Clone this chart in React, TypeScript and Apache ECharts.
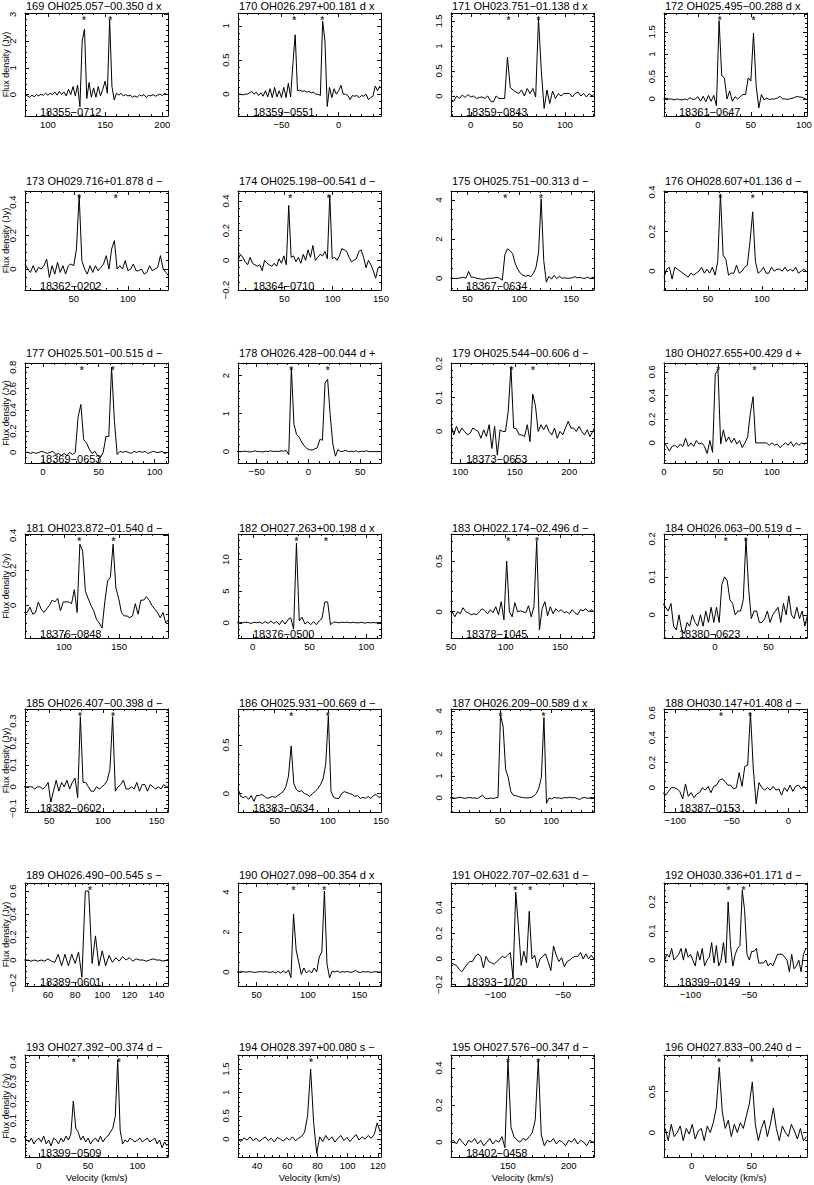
import React, { useEffect, useRef } from "react";
import * as echarts from "echarts";

// ---------------- data ----------------
const panelIds = [169, 170, 171, 172, 173, 174, 175, 176, 177, 178, 179, 180, 181, 182, 183, 184, 185, 186, 187, 188, 189, 190, 191, 192, 193, 194, 195, 196];
const sourceNames = [
  "OH025.057−00.350 d x", "OH026.297+00.181 d x", "OH023.751−01.138 d x", "OH025.495−00.288 d x",
  "OH029.716+01.878 d −", "OH025.198−00.541 d −", "OH025.751−00.313 d −", "OH028.607+01.136 d −",
  "OH025.501−00.515 d −", "OH026.428−00.044 d +", "OH025.544−00.606 d −", "OH027.655+00.429 d +",
  "OH023.872−01.540 d −", "OH027.263+00.198 d x", "OH022.174−02.496 d −", "OH026.063−00.519 d −",
  "OH026.407−00.398 d −", "OH025.931−00.669 d −", "OH026.209−00.589 d x", "OH030.147+01.408 d −",
  "OH026.490−00.545 s −", "OH027.098−00.354 d x", "OH022.707−02.631 d −", "OH030.336+01.171 d −",
  "OH027.392−00.374 d −", "OH028.397+00.080 s −", "OH027.576−00.347 d −", "OH027.833−00.240 d −",
];
const irasNames = [
  "18355−0712", "18359−0551", "18359−0843", "18361−0647",
  "18362−0202", "18364−0710", "18367−0634", "",
  "18369−0653", "", "18373−0653", "",
  "18376−0848", "18376−0500", "18378−1045", "18380−0623",
  "18382−0602", "18383−0634", "", "18387−0153",
  "18389−0601", "", "18393−1020", "18399−0149",
  "18399−0509", "", "18402−0458", "",
];
const xMin = [80, -88, -21, -32, 5, 2, 34, 9, -16, -68, 91.5, 0, 65, -13, 50, -47.5, 27.5, 15.5, 2, -110, 43, 32, -133, -122.5, -14, 27.5, 103, -23];
const xMax = [205, 37, 131, 103, 137, 150, 172, 142, 112, 70, 222.7, 132.5, 194, 113, 181, 86, 160.5, 150, 142, 16.5, 148.5, 171, -27, -1, 131, 122, 221, 96];
const xTick = [50, 50, 50, 50, 50, 50, 50, 50, 50, 50, 50, 50, 50, 50, 50, 50, 50, 50, 50, 50, 20, 50, 50, 50, 50, 20, 50, 50];
const yMin = [-0.8, -0.32, -0.4, -0.38, -0.125, -0.2, -0.6, -0.095, -0.1, -0.3, -0.093, -0.17, -0.186, -2.4, -0.26, -0.061, -0.115, -0.19, -0.65, -0.195, -0.226, -0.7, -0.21, -0.089, -0.087, -0.38, -0.08, -0.3];
const yMax = [3.05, 1.19, 1.66, 1.92, 0.466, 0.467, 4.45, 0.405, 0.84, 2.33, 0.202, 0.675, 0.408, 14.05, 0.77, 0.213, 0.355, 0.87, 4.09, 0.63, 0.67, 4.45, 0.59, 0.265, 0.436, 1.8, 0.47, 0.95];
const yTick = [1, 0.5, 0.5, 0.5, 0.2, 0.2, 2, 0.2, 0.2, 1, 0.1, 0.2, 0.2, 5, 0.5, 0.1, 0.1, 0.5, 1, 0.2, 0.2, 2, 0.2, 0.1, 0.1, 0.5, 0.2, 0.5];
const chanStart = [80, -88, -21, -32.5, 5, 2, 33.5, 9, -16, -69, 91.5, 0, 64.5, -14, 48.5, -48.5, 26.5, 15.5, 0.5, -111, 42.5, 31, -133, -122, -15, 27.5, 102.5, -22];
const chanWidth = [2, 2, 3, 2.5, 2.5, 2.5, 2.5, 2.5, 2.5, 2.5, 2.5, 2.5, 2.5, 2.5, 2.5, 2.5, 2.5, 2.5, 2.5, 2.5, 2.5, 2.5, 2, 2, 2.5, 2, 2.5, 2.5];
const starVel = [
  [131.5, 154.5], [-38.8, -14.3], [40, 72], [20.5, 52.5],
  [55, 88.7], [56, 96], [86.2, 120.8], [61.2, 91.4],
  [34.7, 62.5], [-16.6, 18.6], [147, 166.6], [50.2, 83.7],
  [113.8, 144.8], [38.5, 64.4], [102.4, 128.7], [10, 28.8],
  [78.7, 109.2], [65.5, 99.8], [50.4, 92.6], [-59.6, -33.9],
  [91], [85.9, 115.9], [-85.4, -74.3], [-67.8, -55],
  [35.5, 81], [75.7], [150, 175], [22.8, 50],
];

const flux169 = [0.0, -0.05, -0.1, -0.02, -0.08, 0.0, -0.05, 0.02, -0.03, 0.05, -0.02, 0.05, 0.0, 0.1, -0.02, 0.12, 0.0, 0.1, -0.05, 0.2, 0.0, 0.3, -0.05, 0.35, -0.45, 2.0, 2.45, -0.15, 0.45, -0.1, 0.25, -0.1, 0.3, -0.05, 0.2, 0.5, 0.05, 2.8, 0.3, -0.2, 0.05, -0.02, 0.05, -0.05, 0.0, -0.05, -0.02, -0.1, -0.05, -0.1, -0.02, -0.05, 0.0, -0.1, -0.03, -0.05, 0.0, -0.06, -0.02, 0.02, -0.04, 0.05, 0.0];
const flux170 = [0.0, 0.0, -0.01, 0.0, 0.0, 0.02, 0.04, 0.0, 0.03, -0.02, 0.02, -0.03, 0.05, -0.04, 0.08, -0.05, 0.1, -0.04, 0.05, -0.05, 0.1, -0.05, 0.16, -0.04, 0.45, 0.87, 0.05, 0.06, 0.04, 0.05, 0.03, 0.04, 0.02, 0.03, 0.0, 0.0, -0.02, 1.07, 0.78, -0.18, 0.1, -0.05, 0.08, 0.0, 0.05, 0.13, 0.0, 0.0, -0.02, -0.08, -0.02, -0.03, -0.02, -0.05, -0.02, -0.03, 0.0, -0.08, -0.05, -0.03, 0.12, 0.05, 0.12];
const flux171 = [-0.08, -0.1, 0.0, -0.05, 0.02, -0.03, 0.03, -0.02, 0.0, -0.05, -0.03, -0.02, -0.05, 0.0, -0.1, -0.12, 0.0, -0.05, -0.05, -0.05, 0.78, 0.17, 0.12, 0.08, 0.05, 0.12, 0.0, 0.15, 0.05, 0.15, -0.02, 1.55, 0.5, -0.25, 0.12, -0.15, 0.1, -0.05, 0.05, 0.0, 0.05, 0.05, 0.05, -0.02, 0.05, 0.08, 0.0, 0.05, -0.02, 0.05, 0.0, 0.05];
const flux172 = [0.0, 0.02, 0.0, 0.0, -0.02, 0.0, -0.01, -0.02, 0.0, -0.02, 0.03, -0.01, 0.0, 0.05, -0.05, 0.06, -0.06, 0.08, -0.05, 0.08, -0.15, 1.75, 0.52, 0.47, 0.0, 0.18, -0.05, 0.05, 0.0, 0.05, 0.1, 0.1, 0.47, 0.4, 1.47, 0.3, -0.2, 0.1, -0.02, 0.02, -0.01, 0.0, 0.0, 0.02, 0.06, 0.0, 0.0, -0.01, 0.01, 0.02, 0.05, 0.05, 0.04, 0.02, 0.0];
const flux173 = [0.03, 0.0, -0.02, 0.02, -0.02, 0.01, 0.0, 0.02, 0.06, -0.05, 0.02, -0.03, 0.04, -0.02, 0.02, -0.03, 0.02, 0.03, 0.02, 0.12, 0.44, 0.05, 0.0, -0.03, 0.02, -0.02, 0.02, -0.01, 0.01, 0.03, 0.08, 0.0, 0.12, 0.17, 0.0, 0.02, 0.0, 0.05, -0.01, 0.0, 0.03, -0.01, -0.01, 0.0, -0.03, -0.02, 0.02, -0.01, 0.0, 0.01, 0.08, 0.0, -0.02, -0.04];
const flux174 = [0.0, 0.04, 0.02, -0.01, -0.03, 0.02, -0.02, -0.03, -0.04, -0.03, -0.07, 0.0, -0.02, -0.03, -0.04, -0.02, -0.04, 0.01, -0.02, 0.03, -0.03, 0.37, 0.02, 0.03, -0.01, 0.02, -0.02, 0.04, 0.0, 0.07, 0.02, 0.1, 0.0, 0.02, 0.04, 0.03, 0.06, 0.01, 0.44, 0.01, 0.02, 0.0, 0.03, 0.08, 0.07, 0.06, 0.02, -0.01, 0.0, 0.01, 0.06, 0.07, 0.02, -0.05, 0.0, -0.03, -0.07, -0.12, -0.05, -0.04];
const flux175 = [0.0, 0.0, -0.02, 0.0, 0.02, 0.05, 0.0, 0.35, 0.05, 0.05, 0.0, -0.02, -0.05, -0.05, -0.02, 0.0, 0.0, 0.02, 0.05, 0.0, -0.1, 1.2, 1.5, 1.4, 1.25, 0.75, 0.45, 0.25, 0.15, 0.1, 0.15, 0.08, 0.25, 0.55, 1.3, 4.05, 0.9, -0.2, 0.1, -0.05, 0.15, -0.02, 0.1, 0.0, 0.02, 0.0, 0.0, 0.02, 0.08, 0.02, 0.05, 0.0, 0.0, 0.05, -0.02, 0.05, 0.05];
const flux176 = [-0.03, 0.01, 0.02, -0.04, 0.02, 0.01, 0.0, -0.01, -0.02, -0.03, -0.01, -0.02, -0.01, 0.0, 0.02, -0.01, 0.01, -0.01, 0.02, -0.02, 0.05, 0.39, 0.08, 0.06, -0.02, -0.01, -0.01, 0.03, -0.01, 0.0, 0.02, 0.03, 0.15, 0.3, 0.05, -0.01, 0.0, 0.02, -0.01, -0.01, 0.02, 0.0, 0.01, 0.01, 0.0, 0.02, 0.0, 0.01, 0.0, 0.02, -0.01, 0.0, 0.01, 0.0];
const flux177 = [0.0, 0.0, -0.01, 0.0, -0.01, 0.0, 0.01, 0.0, -0.01, 0.0, 0.01, -0.02, -0.01, -0.03, -0.01, -0.03, 0.0, -0.02, 0.0, 0.33, 0.45, 0.12, 0.09, 0.03, -0.01, 0.01, -0.03, -0.05, 0.0, 0.15, 0.15, 0.8, 0.3, -0.02, 0.01, 0.0, 0.01, 0.0, -0.01, 0.01, 0.0, 0.01, 0.0, 0.01, -0.01, 0.0, 0.01, 0.0, 0.0, 0.01, -0.01, 0.0];
const flux178 = [0.0, 0.0, 0.0, 0.01, 0.0, -0.01, 0.0, 0.02, 0.0, 0.0, -0.01, 0.01, 0.0, 0.02, 0.0, 0.01, 0.0, 0.02, 0.01, 0.03, -0.08, 2.2, 0.72, 0.45, 0.38, 0.25, 0.15, 0.08, 0.05, 0.04, 0.07, 0.1, 0.32, 0.3, 1.8, 1.9, 0.95, 0.2, -0.12, 0.05, 0.0, 0.01, 0.03, 0.0, 0.01, 0.0, 0.02, -0.01, 0.01, 0.0, 0.02, 0.0, 0.0, 0.0, 0.0, 0.0, 0.0];
const flux179 = [0.02, -0.01, 0.015, -0.005, 0.01, 0.0, -0.01, -0.005, 0.01, 0.005, 0.0, -0.02, 0.005, -0.015, 0.02, -0.05, 0.015, -0.07, 0.005, 0.0, 0.0, 0.06, 0.19, 0.01, 0.008, -0.01, -0.01, -0.015, 0.02, -0.03, 0.11, 0.075, 0.0, 0.02, 0.005, 0.02, 0.0, -0.01, 0.01, -0.02, 0.0, -0.01, 0.01, 0.03, 0.01, 0.01, 0.0, 0.015, 0.0, -0.01, 0.005, -0.015, 0.0, 0.015];
const flux180 = [0.0, -0.03, -0.07, -0.03, -0.02, -0.04, -0.01, -0.03, 0.04, -0.03, 0.0, -0.03, 0.02, -0.01, 0.0, -0.03, -0.09, 0.02, -0.08, 0.58, 0.62, -0.01, 0.11, 0.01, 0.05, 0.0, 0.04, -0.01, 0.02, -0.04, 0.0, 0.05, 0.25, 0.39, 0.0, 0.0, 0.0, 0.0, 0.0, -0.02, 0.0, -0.02, -0.01, -0.04, -0.02, 0.0, -0.02, 0.01, -0.03, 0.0, -0.02, 0.0, -0.01, 0.0];
const flux181 = [-0.04, -0.04, -0.01, -0.05, -0.04, 0.02, -0.02, -0.04, -0.02, 0.0, 0.03, 0.02, 0.04, -0.03, 0.02, 0.02, 0.02, 0.01, 0.09, -0.04, 0.35, 0.31, 0.08, 0.04, 0.0, -0.03, -0.08, -0.1, -0.13, 0.02, 0.14, 0.16, 0.35, 0.1, 0.04, -0.04, -0.06, -0.06, -0.07, -0.06, 0.01, -0.05, 0.03, 0.03, 0.05, 0.03, 0.0, -0.02, -0.04, -0.07, -0.04, -0.1, -0.08];
const flux182 = [0.1, 0.1, 0.0, 0.1, 0.05, -0.1, 0.1, 0.0, 0.1, -0.1, 0.2, -0.1, 0.3, -0.1, 0.2, -0.3, 0.4, -0.2, 0.5, 0.8, -1.0, 12.6, 0.3, 0.9, -0.2, 0.2, -0.3, 0.2, -0.3, 0.3, 0.7, 3.3, 3.3, -0.3, 0.1, 0.1, 0.0, 0.1, 0.05, 0.1, 0.0, 0.1, 0.0, 0.0, 0.1, -0.05, 0.05, 0.0, 0.05, 0.0, 0.05, 0.05];
const flux183 = [0.0, 0.0, -0.05, 0.0, -0.02, 0.04, 0.0, -0.01, -0.03, -0.02, -0.03, 0.0, 0.03, 0.01, -0.02, 0.02, -0.01, 0.05, -0.03, 0.1, -0.08, 0.5, 0.0, -0.05, 0.09, 0.0, 0.01, 0.0, -0.01, 0.06, -0.05, 0.05, 0.7, -0.18, 0.03, 0.1, -0.04, 0.05, -0.02, 0.03, 0.0, 0.02, -0.01, 0.0, -0.02, 0.02, -0.01, -0.03, 0.02, 0.01, 0.03, 0.0, 0.02, 0.0];
const flux184 = [0.03, 0.02, 0.01, 0.03, -0.03, -0.04, 0.0, -0.04, -0.05, -0.02, -0.03, 0.0, -0.02, -0.03, 0.0, -0.03, 0.01, -0.02, 0.02, -0.02, 0.02, -0.02, 0.08, 0.1, 0.09, 0.04, 0.03, 0.0, 0.01, 0.01, 0.04, 0.2, 0.07, -0.01, 0.01, 0.01, -0.02, -0.02, -0.01, 0.01, -0.02, 0.0, 0.01, 0.02, -0.02, 0.03, 0.0, 0.05, 0.0, -0.01, 0.02, -0.01, 0.01, -0.03, 0.0];
const flux185 = [0.0, 0.0, 0.0, 0.0, -0.01, 0.0, 0.0, -0.01, 0.0, 0.02, -0.07, -0.02, 0.03, -0.02, 0.02, 0.0, 0.03, -0.01, 0.02, 0.04, -0.05, 0.32, 0.02, 0.02, 0.0, -0.02, -0.02, 0.0, -0.01, 0.0, 0.01, 0.03, 0.08, 0.32, -0.02, 0.0, 0.01, 0.03, -0.01, -0.01, 0.0, -0.01, 0.02, -0.02, 0.01, 0.01, -0.02, 0.01, 0.0, -0.01, 0.0, -0.01, 0.01, 0.0, 0.0];
const flux186 = [0.05, -0.03, -0.04, -0.03, -0.06, -0.02, -0.08, -0.02, -0.02, -0.01, -0.03, -0.05, -0.04, -0.03, -0.04, -0.02, 0.0, 0.02, 0.07, 0.18, 0.49, 0.1, 0.04, 0.02, 0.03, 0.0, -0.01, -0.03, 0.0, 0.02, 0.05, 0.09, 0.15, 0.3, 0.8, 0.02, -0.04, -0.05, -0.05, 0.0, 0.02, 0.01, 0.0, -0.01, -0.03, -0.02, -0.05, -0.04, -0.05, -0.03, -0.05, -0.02, -0.01, -0.04, -0.03];
const flux187 = [0.0, 0.02, -0.02, 0.0, 0.03, 0.0, -0.02, 0.0, 0.02, -0.01, 0.0, -0.03, 0.05, 0.12, -0.02, -0.04, 0.0, -0.03, 0.0, 0.02, 3.8, 3.3, 1.3, 0.95, 0.3, 0.12, 0.1, 0.06, 0.03, 0.01, 0.0, 0.0, 0.02, 0.08, 0.2, 0.45, 0.95, 3.7, -0.25, 0.0, -0.05, 0.02, 0.0, 0.0, -0.03, 0.02, 0.0, 0.03, 0.0, 0.02, -0.03, -0.07, 0.0, 0.02, -0.02, 0.0, 0.02, 0.0];
const flux188 = [-0.04, -0.06, -0.03, 0.0, 0.0, -0.01, -0.03, -0.09, 0.03, -0.07, -0.04, -0.08, -0.05, -0.04, 0.0, -0.02, 0.01, -0.04, 0.01, 0.02, 0.06, 0.07, 0.05, 0.02, 0.02, -0.01, 0.0, 0.12, 0.01, 0.17, 0.18, 0.6, 0.15, -0.13, 0.04, 0.0, -0.02, 0.0, -0.02, 0.01, -0.02, -0.01, -0.06, 0.0, -0.03, 0.02, -0.03, 0.01, 0.02, -0.01, 0.01, -0.02];
const flux189 = [0.0, 0.0, -0.01, 0.0, -0.01, 0.0, -0.01, 0.01, -0.01, -0.02, 0.05, -0.05, 0.05, -0.05, 0.05, -0.03, 0.07, -0.15, 0.6, 0.6, -0.03, 0.21, -0.05, 0.08, -0.05, 0.04, -0.02, 0.02, -0.01, 0.03, 0.0, 0.02, -0.01, 0.01, 0.0, 0.0, -0.01, 0.0, 0.01, 0.0, 0.0, -0.01, 0.0, 0.01];
const flux190 = [0.0, 0.0, 0.02, 0.0, 0.0, 0.02, 0.0, -0.02, 0.0, 0.02, 0.0, 0.02, 0.0, -0.02, 0.02, -0.05, 0.03, -0.05, 0.05, -0.05, 0.1, -0.28, 2.9, 1.1, 0.5, -0.12, 0.2, -0.05, 0.08, -0.05, 0.2, 0.0, 0.75, 1.0, 4.05, 0.4, -0.3, 0.05, 0.0, 0.05, -0.02, 0.02, 0.0, 0.03, -0.02, 0.0, 0.08, 0.0, -0.02, 0.02, 0.0, 0.02, -0.02, 0.0, 0.02, 0.0, 0.0];
const flux191 = [-0.03, -0.04, -0.05, -0.08, -0.1, -0.07, -0.04, -0.02, -0.02, 0.02, 0.04, 0.02, -0.07, 0.02, -0.02, -0.03, -0.04, -0.02, 0.0, 0.02, 0.01, 0.03, 0.05, -0.15, 0.52, 0.25, -0.05, 0.06, -0.03, 0.37, 0.0, 0.03, -0.07, 0.0, 0.02, 0.04, -0.02, -0.09, 0.1, 0.03, -0.02, 0.01, -0.06, -0.02, -0.01, 0.01, 0.02, 0.02, 0.05, 0.0, 0.04, 0.0, 0.03, 0.0];
const flux192 = [0.0, 0.02, 0.01, 0.04, 0.0, 0.01, 0.02, 0.04, 0.0, 0.04, 0.01, 0.02, 0.0, -0.02, 0.03, 0.0, 0.04, -0.02, 0.0, 0.01, 0.06, -0.01, 0.05, -0.02, 0.0, 0.06, -0.01, 0.2, 0.05, -0.02, 0.02, 0.04, 0.05, 0.24, 0.17, 0.02, 0.0, 0.03, 0.03, 0.04, -0.01, -0.01, -0.01, 0.0, -0.02, -0.01, -0.02, 0.0, 0.02, 0.02, 0.02, 0.01, 0.0, -0.04, 0.02, -0.03, -0.02, 0.0, -0.04, 0.02, 0.04];
const flux193 = [0.02, 0.0, -0.01, 0.01, -0.02, 0.0, 0.01, -0.01, 0.02, -0.02, 0.0, -0.03, 0.01, 0.0, -0.02, 0.01, -0.01, 0.02, 0.0, 0.03, 0.2, 0.06, 0.04, 0.0, 0.02, -0.01, 0.01, -0.02, 0.0, 0.01, -0.01, 0.02, -0.01, 0.01, 0.02, 0.04, 0.06, 0.12, 0.41, 0.05, -0.02, 0.0, -0.01, 0.01, 0.0, -0.01, 0.0, 0.01, -0.01, 0.0, 0.01, -0.01, 0.0, 0.01, -0.02, 0.0, -0.04, -0.01, -0.03];
const flux194 = [0.0, -0.05, 0.03, -0.02, 0.05, -0.03, 0.02, -0.05, 0.0, 0.05, -0.03, 0.02, -0.06, 0.04, 0.0, -0.04, 0.03, -0.02, 0.05, -0.03, 0.02, 0.06, 0.15, 0.5, 1.5, 0.35, -0.3, 0.05, -0.05, 0.08, -0.02, 0.05, -0.06, 0.02, 0.08, -0.03, 0.04, -0.05, 0.03, 0.1, -0.02, 0.05, 0.0, 0.08, 0.02, 0.1, 0.35, 0.15];
const flux195 = [0.0, 0.01, -0.01, 0.02, 0.0, -0.02, 0.01, 0.0, 0.02, -0.01, 0.01, -0.02, 0.0, 0.02, -0.01, 0.01, 0.0, 0.03, -0.03, 0.44, 0.08, 0.03, 0.01, 0.0, 0.02, 0.01, 0.03, 0.05, 0.12, 0.44, 0.04, -0.02, 0.01, 0.0, 0.02, -0.01, 0.01, 0.0, -0.02, 0.01, 0.0, 0.02, -0.01, 0.01, 0.0, -0.02, 0.01, 0.0, 0.01];
const flux196 = [0.05, -0.1, 0.1, -0.05, 0.0, 0.08, -0.1, 0.05, -0.02, 0.1, -0.08, 0.02, 0.05, -0.1, 0.08, 0.0, 0.12, 0.3, 0.8, 0.25, 0.05, 0.15, -0.05, 0.1, 0.0, 0.12, 0.05, 0.2, 0.35, 0.62, 0.1, -0.1, 0.05, 0.15, -0.05, 0.1, 0.3, 0.05, -0.1, 0.08, 0.0, -0.05, 0.1, 0.02, -0.08, 0.05, -0.1, -0.05];

const fluxes = [flux169, flux170, flux171, flux172, flux173, flux174, flux175, flux176, flux177, flux178, flux179, flux180, flux181, flux182, flux183, flux184, flux185, flux186, flux187, flux188, flux189, flux190, flux191, flux192, flux193, flux194, flux195, flux196];

// ---------------- layout ----------------
const colLeft = [25, 238, 451, 664];
const plotW = 143;
const rowTop = [13, 191, 363, 534, 709, 883, 1055];
const rowBottom = [116, 290, 463, 638, 812, 986, 1157];
const titleMid = [5, 180, 352, 527, 702, 874, 1046];
const SANS = '"Liberation Sans", Arial, sans-serif';

function minorSplit(step: number) {
  const e = Math.pow(10, Math.floor(Math.log10(step) + 1e-9));
  const m = Math.round(step / e);
  return m === 2 ? 4 : 5;
}
function isMult(v: number, step: number) {
  const r = v / step;
  return Math.abs(r - Math.round(r)) < 1e-6;
}
function fmt(v: number) {
  const s = String(+Number(v).toFixed(6));
  return s.replace("-", "−");
}

function buildOption() {
  const grid: any[] = [];
  const xAxis: any[] = [];
  const yAxis: any[] = [];
  const series: any[] = [];
  const graphic: any[] = [];
  const LINE = { color: "#000", width: 1 };
  const TICK = { color: "#111", width: 1 };

  panelIds.forEach((id, i) => {
    const r = Math.floor(i / 4);
    const c = i % 4;
    const left = colLeft[c];
    const top = rowTop[r];
    const height = rowBottom[r] - rowTop[r];
    grid.push({ left, top, width: plotW, height, containLabel: false, outerBoundsMode: "none" });

    const axisBase = (isX: boolean) => {
      const min = isX ? xMin[i] : yMin[i];
      const max = isX ? xMax[i] : yMax[i];
      const step = isX ? xTick[i] : yTick[i];
      return {
        type: "value",
        gridIndex: i,
        min,
        max,
        minInterval: step,
        maxInterval: step,
        splitNumber: 5,
        nameMoveOverlap: false,
        axisLine: { show: true, onZero: false, lineStyle: LINE },
        axisTick: { show: true, inside: true, length: 4, lineStyle: TICK },
        minorTick: { show: true, splitNumber: minorSplit(step), length: 2, lineStyle: TICK },
        splitLine: { show: false },
        minorSplitLine: { show: false },
        axisPointer: { show: false },
        silent: true,
      };
    };
    const labelStyle = { color: "#000", fontFamily: SANS, fontSize: 9.5, formatter: fmt, hideOverlap: false };

    const xb: any = {
      ...axisBase(true),
      position: "bottom",
      axisLabel: {
        ...labelStyle,
        show: true,
        margin: 3,
        showMinLabel: isMult(xMin[i], xTick[i]),
        showMaxLabel: isMult(xMax[i], xTick[i]),
      },
    };
    if (r === 6) {
      xb.name = "Velocity (km/s)";
      xb.nameLocation = "middle";
      xb.nameGap = 15;
      xb.nameTextStyle = { color: "#000", fontFamily: SANS, fontSize: 9.5 };
    }
    xAxis.push(xb);
    xAxis.push({ ...axisBase(true), position: "top", axisLabel: { show: false } });

    const yl: any = {
      ...axisBase(false),
      position: "left",
      axisLabel: {
        ...labelStyle,
        show: true,
        rotate: 90,
        margin: 7.5,
        showMinLabel: isMult(yMin[i], yTick[i]),
        showMaxLabel: isMult(yMax[i], yTick[i]),
      },
    };
    if (c === 0) {
      yl.name = "Flux density (Jy)";
      yl.nameLocation = "middle";
      yl.nameGap = 14.5;
      yl.nameRotate = 90;
      yl.nameTextStyle = { color: "#000", fontFamily: SANS, fontSize: 9, lineHeight: 9 };
    }
    yAxis.push(yl);
    yAxis.push({ ...axisBase(false), position: "right", axisLabel: { show: false } });

    const data = fluxes[i].map((y, k) => [chanStart[i] + k * chanWidth[i], y]);
    series.push({
      type: "line",
      xAxisIndex: 2 * i,
      yAxisIndex: 2 * i,
      data,
      color: "#000",
      symbol: "none",
      showSymbol: false,
      lineStyle: { color: "#000", width: 1 },
      clip: true,
      silent: true,
      animation: false,
    });
    const starY = yMax[i] - 0.072 * (yMax[i] - yMin[i]);
    series.push({
      type: "scatter",
      xAxisIndex: 2 * i,
      yAxisIndex: 2 * i,
      data: starVel[i].map((v) => [v, starY]),
      color: "#000",
      symbol: "circle",
      symbolSize: 0.01,
      itemStyle: { color: "#000" },
      label: {
        show: true,
        position: "inside",
        formatter: "*",
        color: "#000",
        textBorderWidth: 0,
        fontSize: 10,
        fontWeight: "bold",
        fontFamily: SANS,
      },
      emphasis: { disabled: true },
      silent: true,
      animation: false,
    });

    graphic.push({
      type: "text",
      x: left + 1,
      y: titleMid[r] + 1,
      silent: true,
      style: {
        text: `${id} ${sourceNames[i]}`,
        fill: "#000",
        font: `11px ${SANS}`,
        textAlign: "left",
        align: "left",
        textVerticalAlign: "middle",
        verticalAlign: "middle",
      },
    });
    if (irasNames[i]) {
      graphic.push({
        type: "text",
        x: left + 15,
        y: rowBottom[r] + 1.5,
        silent: true,
        style: {
          text: irasNames[i],
          fill: "#000",
          font: `11px ${SANS}`,
          textAlign: "left",
          align: "left",
          textVerticalAlign: "bottom",
          verticalAlign: "bottom",
        },
      });
    }
  });

  return {
    animation: false,
    backgroundColor: "#fff",
    color: ["#000"],
    grid,
    xAxis,
    yAxis,
    series,
    graphic,
  };
}

export default function App() {
  const ref = useRef<HTMLDivElement>(null);
  useEffect(() => {
    if (!ref.current) return;
    const chart = echarts.init(ref.current, undefined, { renderer: "svg" });
    chart.setOption(buildOption() as any);
    return () => {
      chart.dispose();
    };
  }, []);
  return (
    <div
      ref={ref}
      style={{ position: "absolute", left: 0, top: 0, width: 814, height: 1185, background: "#fff" }}
    />
  );
}
